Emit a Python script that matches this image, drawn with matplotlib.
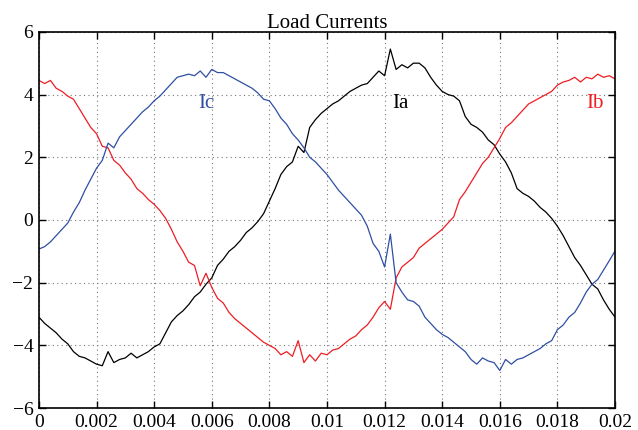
import numpy as np
import matplotlib.pyplot as plt

########################################

t = np.linspace(0, 0.02, 101)

ia = [-3.10, -3.30, -3.45, -3.60, -3.80, -3.95, -4.20, -4.35, -4.40, -4.50,
      -4.60, -4.65, -4.20, -4.55, -4.45, -4.40, -4.25, -4.40, -4.30, -4.20,
      -4.05, -3.95, -3.60, -3.25, -3.05, -2.90, -2.70, -2.45, -2.30, -2.05,
      -1.85, -1.45, -1.25, -1.00, -0.85, -0.65, -0.40, -0.25, -0.05, 0.20,
      0.60, 1.00, 1.45, 1.70, 1.85, 2.35, 2.15, 2.95, 3.20, 3.40,
      3.55, 3.70, 3.80, 3.95, 4.10, 4.20, 4.30, 4.35, 4.55, 4.75,
      4.60, 5.45, 4.80, 4.95, 4.85, 5.00, 5.00, 4.85, 4.55, 4.30,
      4.10, 4.00, 3.95, 3.80, 3.30, 3.05, 2.95, 2.80, 2.55, 2.40,
      2.10, 1.85, 1.50, 1.00, 0.85, 0.75, 0.60, 0.40, 0.25, 0.05,
      -0.20, -0.50, -0.85, -1.20, -1.45, -1.75, -2.05, -2.20, -2.55, -2.85,
      -3.10]

ib = [4.45, 4.35, 4.45, 4.20, 4.10, 3.95, 3.85, 3.55, 3.25, 2.95,
      2.75, 2.35, 2.30, 1.90, 1.75, 1.50, 1.30, 1.00, 0.85, 0.65,
      0.50, 0.30, 0.05, -0.30, -0.70, -1.00, -1.35, -1.45, -2.10, -1.70,
      -2.15, -2.50, -2.65, -2.95, -3.15, -3.30, -3.45, -3.60, -3.75, -3.90,
      -4.00, -4.10, -4.30, -4.20, -4.35, -3.85, -4.55, -4.30, -4.50, -4.25,
      -4.30, -4.15, -4.10, -3.95, -3.80, -3.70, -3.50, -3.35, -3.10, -2.80,
      -2.60, -2.85, -1.85, -1.50, -1.35, -1.20, -0.90, -0.75, -0.60, -0.45,
      -0.30, -0.10, 0.10, 0.65, 0.90, 1.20, 1.50, 1.80, 2.00, 2.30,
      2.60, 2.95, 3.10, 3.30, 3.50, 3.70, 3.80, 3.90, 4.00, 4.10,
      4.30, 4.40, 4.45, 4.55, 4.40, 4.55, 4.50, 4.65, 4.55, 4.60,
      4.50]

ic = [-0.93, -0.85, -0.70, -0.50, -0.30, -0.10, 0.25, 0.55, 0.95, 1.30,
      1.65, 1.90, 2.45, 2.30, 2.65, 2.85, 3.05, 3.25, 3.45, 3.60,
      3.80, 3.95, 4.15, 4.35, 4.55, 4.60, 4.65, 4.60, 4.75, 4.55,
      4.80, 4.70, 4.70, 4.60, 4.50, 4.40, 4.30, 4.20, 4.05, 3.85,
      3.80, 3.55, 3.25, 3.05, 2.75, 2.55, 2.30, 2.00, 1.85, 1.65,
      1.45, 1.20, 0.95, 0.75, 0.55, 0.35, 0.15, -0.20, -0.75, -1.00,
      -1.50, -0.45, -2.00, -2.30, -2.55, -2.60, -2.75, -3.10, -3.30, -3.50,
      -3.65, -3.75, -3.90, -4.05, -4.20, -4.45, -4.60, -4.40, -4.50, -4.55,
      -4.80, -4.45, -4.60, -4.45, -4.40, -4.30, -4.20, -4.10, -3.95, -3.85,
      -3.50, -3.35, -3.10, -2.95, -2.65, -2.30, -2.05, -1.90, -1.60, -1.30,
      -0.99]

series = [("Ia", ia, "black", 0.01256), ("Ib", ib, "#ee1d23", 0.0193), ("Ic", ic, "#2e4fa3", 0.0058)]

x_ticks = [0, 0.002, 0.004, 0.006, 0.008, 0.01, 0.012, 0.014, 0.016, 0.018, 0.02]
x_tick_labels = ["0", "0.002", "0.004", "0.006", "0.008", "0.01", "0.012", "0.014", "0.016", "0.018", "0.02"]
y_ticks = [-6, -4, -2, 0, 2, 4, 6]

########################################

plt.rcParams["font.family"] = ["Liberation Serif", "DejaVu Serif"]

fig = plt.figure(figsize = (6.38, 4.30), dpi = 100)
ax = fig.add_axes([0.061, 0.051, 0.903, 0.875])

for name, values, colour, label_t in series:
    ax.plot(t, values, color = colour, linewidth = 0.9)
    ax.text(label_t, 3.7, name, color = colour, fontsize = 15, ha = "center", va = "center")

ax.set_xlim(0, 0.02)
ax.set_ylim(-6, 6)
ax.set_xticks(x_ticks)
ax.set_xticklabels(x_tick_labels)
ax.set_yticks(y_ticks)
ax.tick_params(direction = "in", top = True, right = True, labelsize = 14, length = 5, width = 1, pad = 4)
ax.grid(True, linestyle = (0, (1, 3)), color = "#777777", linewidth = 0.8)
for spine in ax.spines.values():
    spine.set_linewidth(1.2)
ax.set_title("Load Currents", fontsize = 15, pad = 3)

plt.savefig("out.png", dpi = 100)
plt.close()
